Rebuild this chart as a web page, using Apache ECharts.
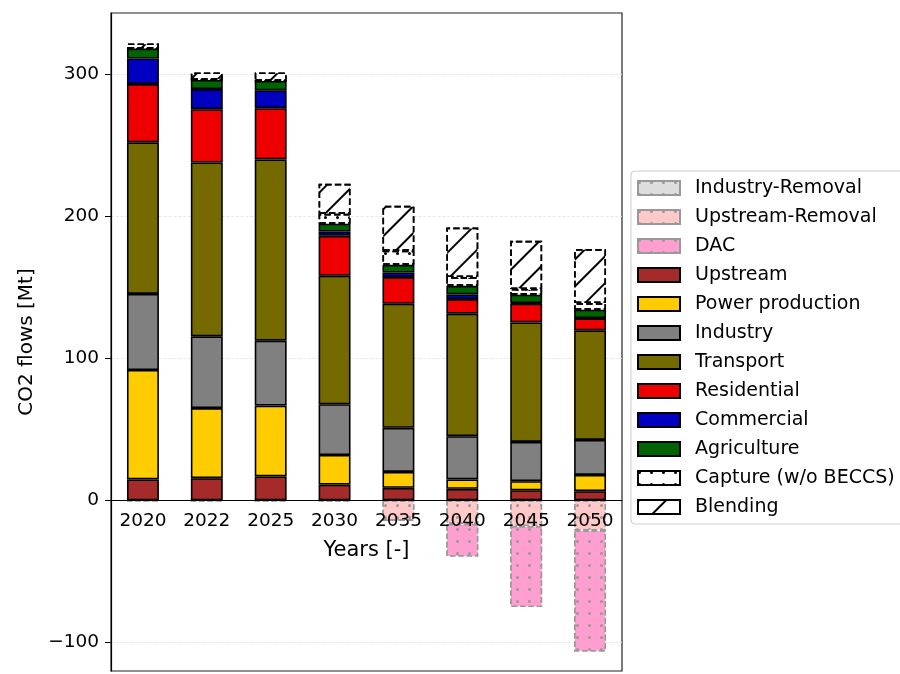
<!DOCTYPE html>
<html>
<head>
<meta charset="utf-8">
<script src="https://cdn.jsdelivr.net/npm/echarts@6/dist/echarts.min.js"></script>
<style>
html, body { margin: 0; padding: 0; background: #fff; }
#chart { width: 900px; height: 674px; }
</style>
</head>
<body>
<div id="chart"></div>
<script>
// categories and tick values
const years = ['2020', '2022', '2025', '2030', '2035', '2040', '2045', '2050']
const yTicks = [-100, 0, 100, 200, 300]
const yMin = -120
const yMax = 343

// negative flows (removals)
const industryRemoval = [0, 0, 0, 0, 0, 0, 0, 0]
const upstreamRemoval = [0, 0, 0, 0, -14, -16.5, -18, -21]
const dac = [0, 0, 0, 0, 0, -23, -57, -85.3]

// emissions by sector
const upstream = [14.8, 15.7, 16.9, 11.2, 8.9, 8.2, 7.2, 6.5]
const power = [77.0, 49.3, 49.9, 20.8, 11.2, 6.6, 6.4, 11.5]
const industry = [53.5, 50.5, 45.6, 35.7, 31.0, 30.4, 27.6, 24.6]
const transport = [106.7, 122.3, 127.6, 90.4, 87.3, 86.2, 84.1, 77.1]
const residential = [41.0, 37.5, 36.0, 28.1, 18.8, 10.3, 13.1, 8.4]
const commercial = [18.0, 14.2, 12.6, 3.0, 3.2, 3.3, 0.5, 0.3]
const agriculture = [7.0, 6.4, 6.6, 5.5, 5.4, 6.0, 5.9, 5.8]
const capture = [0, 0, 0, 7.0, 9.9, 6.2, 4.0, 4.7]
const blending = [3.6, 5.3, 6.0, 21.1, 31.6, 34.8, 33.9, 38.0]

const font = 'DejaVu Sans'
const gridTop = 13
const gridHeight = 658

// hatch patterns
const hatch = { symbol: 'rect', symbolSize: 1, color: '#000', dashArrayX: [1, 0], dashArrayY: [1.6, 16.2], rotation: -Math.PI / 4 }
const blackDots = { symbol: 'circle', symbolSize: 1, color: '#000', dashArrayX: [3, 8.5], dashArrayY: [3, 8.5] }
const greyDots = { symbol: 'circle', symbolSize: 1, color: '#999', dashArrayX: [2.5, 9], dashArrayY: [2.5, 9] }

function solid (color) {
  return { color: color, borderColor: '#000', borderWidth: 1.6 }
}
function removal (color) {
  return { color: color, borderColor: '#999', borderWidth: 1.4, borderType: 'dashed', decal: greyDots }
}
function bar (name, data, itemStyle) {
  return { name: name, type: 'bar', stack: 'total', barWidth: '50%', data: data, itemStyle: itemStyle }
}

const series = [
  bar('Industry-Removal', industryRemoval, removal('#dddddd')),
  bar('Upstream-Removal', upstreamRemoval, removal('#ffc9c9')),
  bar('DAC', dac, removal('#ff9fcf')),
  bar('Upstream', upstream, solid('#a52a2a')),
  bar('Power production', power, solid('#ffcc00')),
  bar('Industry', industry, solid('#808080')),
  bar('Transport', transport, solid('#756a00')),
  bar('Residential', residential, solid('#ee0000')),
  bar('Commercial', commercial, solid('#0000c0')),
  bar('Agriculture', agriculture, solid('#006400')),
  bar('Capture (w/o BECCS)', capture, { color: '#fff', borderColor: '#000', borderWidth: 1.6, borderType: 'dashed', decal: blackDots }),
  bar('Blending', blending, { color: '#fff', borderColor: '#000', borderWidth: 1.6, borderType: 'dashed', decal: hatch })
]

// x axis sits on the zero line: shift it up from the grid bottom
const zeroOffset = -(0 - yMin) / (yMax - yMin) * gridHeight

const chart = echarts.init(document.getElementById('chart'))
chart.setOption({
  animation: false,
  textStyle: { fontFamily: font },
  grid: {
    left: 111, top: gridTop, width: 511, height: gridHeight,
    outerBoundsMode: 'none',
    containLabel: false,
    show: true, borderColor: '#222', borderWidth: 1.2
  },
  legend: {
    orient: 'vertical',
    left: 631,
    top: 171,
    icon: 'rect',
    itemWidth: 42,
    itemHeight: 14,
    itemGap: 9,
    padding: [7, 12, 7, 6],
    borderColor: '#ccc',
    borderWidth: 1,
    borderRadius: 4,
    backgroundColor: '#fff',
    textStyle: { fontFamily: font, fontSize: 19, color: '#000', lineHeight: 20, padding: [0, 0, 0, 10] }
  },
  xAxis: {
    type: 'category',
    data: years,
    z: 10,
    position: 'bottom',
    offset: zeroOffset,
    name: 'Years [-]',
    nameLocation: 'middle',
    nameGap: 40,
    nameTextStyle: { fontFamily: font, fontSize: 21, color: '#000' },
    axisLine: { onZero: false, lineStyle: { color: '#000', width: 1.2 } },
    axisTick: { alignWithLabel: true, length: 6, lineStyle: { color: '#000' } },
    axisLabel: { fontFamily: font, fontSize: 18.5, color: '#000', margin: 11 }
  },
  yAxis: {
    type: 'value',
    min: yMin,
    max: yMax,
    name: 'CO2 flows [Mt]',
    nameLocation: 'middle',
    nameGap: 72,
    nameTextStyle: { fontFamily: font, fontSize: 20, color: '#000' },
    axisLine: { show: true, lineStyle: { color: '#000', width: 1.2 } },
    axisTick: { show: true, length: 6, customValues: yTicks, lineStyle: { color: '#000' } },
    axisLabel: {
      fontFamily: font, fontSize: 18.5, color: '#000', margin: 12, customValues: yTicks,
      formatter: (v) => String(v).replace('-', '\u2212')
    },
    splitLine: { show: true, lineStyle: { color: '#e2e2e2', width: 0.8, type: 'dashed' } }
  },
  series: series
})
</script>
</body>
</html>
